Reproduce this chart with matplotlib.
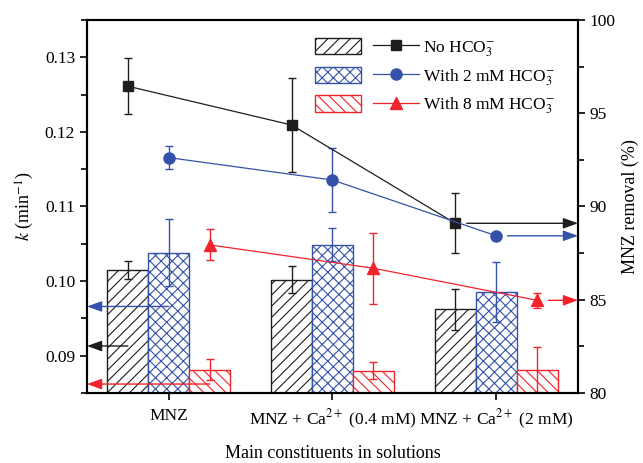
import matplotlib
matplotlib.use("Agg")
import matplotlib.pyplot as plt
from matplotlib.legend_handler import HandlerTuple
from matplotlib.patches import Patch
from matplotlib.lines import Line2D
from matplotlib.ticker import MultipleLocator

plt.rcParams['font.family'] = ['Liberation Serif', 'DejaVu Serif']
plt.rcParams['mathtext.fontset'] = 'stix'
plt.rcParams['hatch.linewidth'] = 0.8

# categories and series
categories = ['MNZ', 'MNZ + Ca$^{2+}$ (0.4 mM)', 'MNZ + Ca$^{2+}$ (2 mM)']
series_labels = ['No HCO$_3^{-}$', 'With 2 mM HCO$_3^{-}$', 'With 8 mM HCO$_3^{-}$']

# rate constant k (min^-1), bars, left axis
k_none = [0.1015, 0.1002, 0.0962]
k_none_err = [0.0012, 0.0018, 0.0027]
k_2mM = [0.1038, 0.1049, 0.0985]
k_2mM_err = [0.0045, 0.0022, 0.0040]
k_8mM = [0.0881, 0.0880, 0.0881]
k_8mM_err = [0.0014, 0.0011, 0.0030]

# MNZ removal (%), lines, right axis
rem_none = [96.45, 94.37, 89.1]
rem_none_err = [1.5, 2.5, 1.6]
rem_2mM = [92.62, 91.42, 88.43]
rem_2mM_err = [0.62, 1.72, 0.1]
rem_8mM = [87.94, 86.69, 84.97]
rem_8mM_err = [0.83, 1.9, 0.4]

# heights of the indicator arrows pointing at the left axis
k_arrow = [0.0913, 0.0966, 0.0862]

colors = ['#1e1e1e', '#3552aa', '#f0242a']
hatches = ['///', 'xxx', '\\\\\\']
markers = ['s', 'o', '^']

fig = plt.figure(figsize=(6.43, 4.63), dpi=100)
ax = fig.add_axes([0.1353, 0.1512, 0.7636, 0.8056])
ax2 = ax.twinx()

w = 0.25
offsets = [-w, 0, w]
xs = list(range(len(categories)))

k_sets = [(k_none, k_none_err), (k_2mM, k_2mM_err), (k_8mM, k_8mM_err)]
rem_sets = [(rem_none, rem_none_err), (rem_2mM, rem_2mM_err), (rem_8mM, rem_8mM_err)]

bar_handles = []
line_handles = []
for i in range(3):
    kv, ke = k_sets[i]
    bx = [x + offsets[i] for x in xs]
    ax.bar(bx, kv, width=w, facecolor='white', edgecolor=colors[i],
           hatch=hatches[i], linewidth=1.0, zorder=2)
    ax.errorbar(bx, kv, yerr=ke, fmt='none', ecolor=colors[i],
                elinewidth=1.0, capsize=3, capthick=1.0, zorder=3)
    bar_handles.append(Patch(facecolor='white', edgecolor=colors[i],
                             hatch=hatches[i], linewidth=1.0))

    rv, re_ = rem_sets[i]
    ax2.errorbar(bx, rv, yerr=re_, color=colors[i], marker=markers[i],
                 markersize=8 if i else 7.5, linewidth=0.9, elinewidth=1.0,
                 capsize=3, capthick=1.0, zorder=4)
    line_handles.append(Line2D([], [], color=colors[i], marker=markers[i],
                               markersize=8 if i else 7.5, linewidth=0.9))

    # arrow from bar centre of the first group to the left axis
    ax.annotate('', xy=(0, k_arrow[i]), xycoords=('axes fraction', 'data'),
                xytext=(xs[0] + offsets[i], k_arrow[i]), textcoords='data',
                arrowprops=dict(arrowstyle='-|>,head_length=0.5,head_width=0.18',
                                color=colors[i], lw=1.0, mutation_scale=18,
                                shrinkA=0, shrinkB=0), zorder=5)
    # arrow from the last point of each line to the right axis
    ax2.annotate('', xy=(1, rv[-1]), xycoords=('axes fraction', 'data'),
                 xytext=(xs[-1] + offsets[i] + 0.07, rv[-1]), textcoords='data',
                 arrowprops=dict(arrowstyle='-|>,head_length=0.5,head_width=0.18',
                                 color=colors[i], lw=1.0, mutation_scale=18,
                                 shrinkA=0, shrinkB=0), zorder=5)

ax.set_xlim(-0.5, 2.5)
ax.set_ylim(0.085, 0.135)
ax2.set_ylim(80, 100)

ax.set_xticks(xs)
ax.set_xticklabels(categories, fontsize=12.5)
ax.yaxis.set_major_locator(MultipleLocator(0.01))
ax.yaxis.set_minor_locator(MultipleLocator(0.005))
ax.set_yticks([0.09, 0.10, 0.11, 0.12, 0.13])
ax.set_yticklabels(['0.09', '0.10', '0.11', '0.12', '0.13'])
ax2.yaxis.set_major_locator(MultipleLocator(5))
ax2.yaxis.set_minor_locator(MultipleLocator(2.5))

for a in (ax, ax2):
    a.tick_params(axis='both', which='major', direction='out', length=5,
                  width=1.2, labelsize=12.5)
    a.tick_params(axis='both', which='minor', direction='out', length=4,
                  width=1.2)
    for s in a.spines.values():
        s.set_linewidth(1.5)
ax.tick_params(axis='x', which='minor', length=0)
ax.tick_params(axis='x', which='major', pad=6)

ax.set_xlabel('Main constituents in solutions', fontsize=13, labelpad=10)
ax.set_ylabel('$k$ (min$^{-1}$)', fontsize=13, labelpad=6)
ax2.set_ylabel('MNZ removal (%)', fontsize=13, labelpad=4)

ax2.legend([(b, l) for b, l in zip(bar_handles, line_handles)], series_labels,
           handler_map={tuple: HandlerTuple(ndivide=2, pad=0.7)},
           loc='upper left', bbox_to_anchor=(0.44, 0.985), frameon=False,
           fontsize=12.5, handlelength=6.0, handleheight=1.1,
           handletextpad=0.2, labelspacing=0.45, borderpad=0.2)

fig.savefig('out.png', dpi=100)
